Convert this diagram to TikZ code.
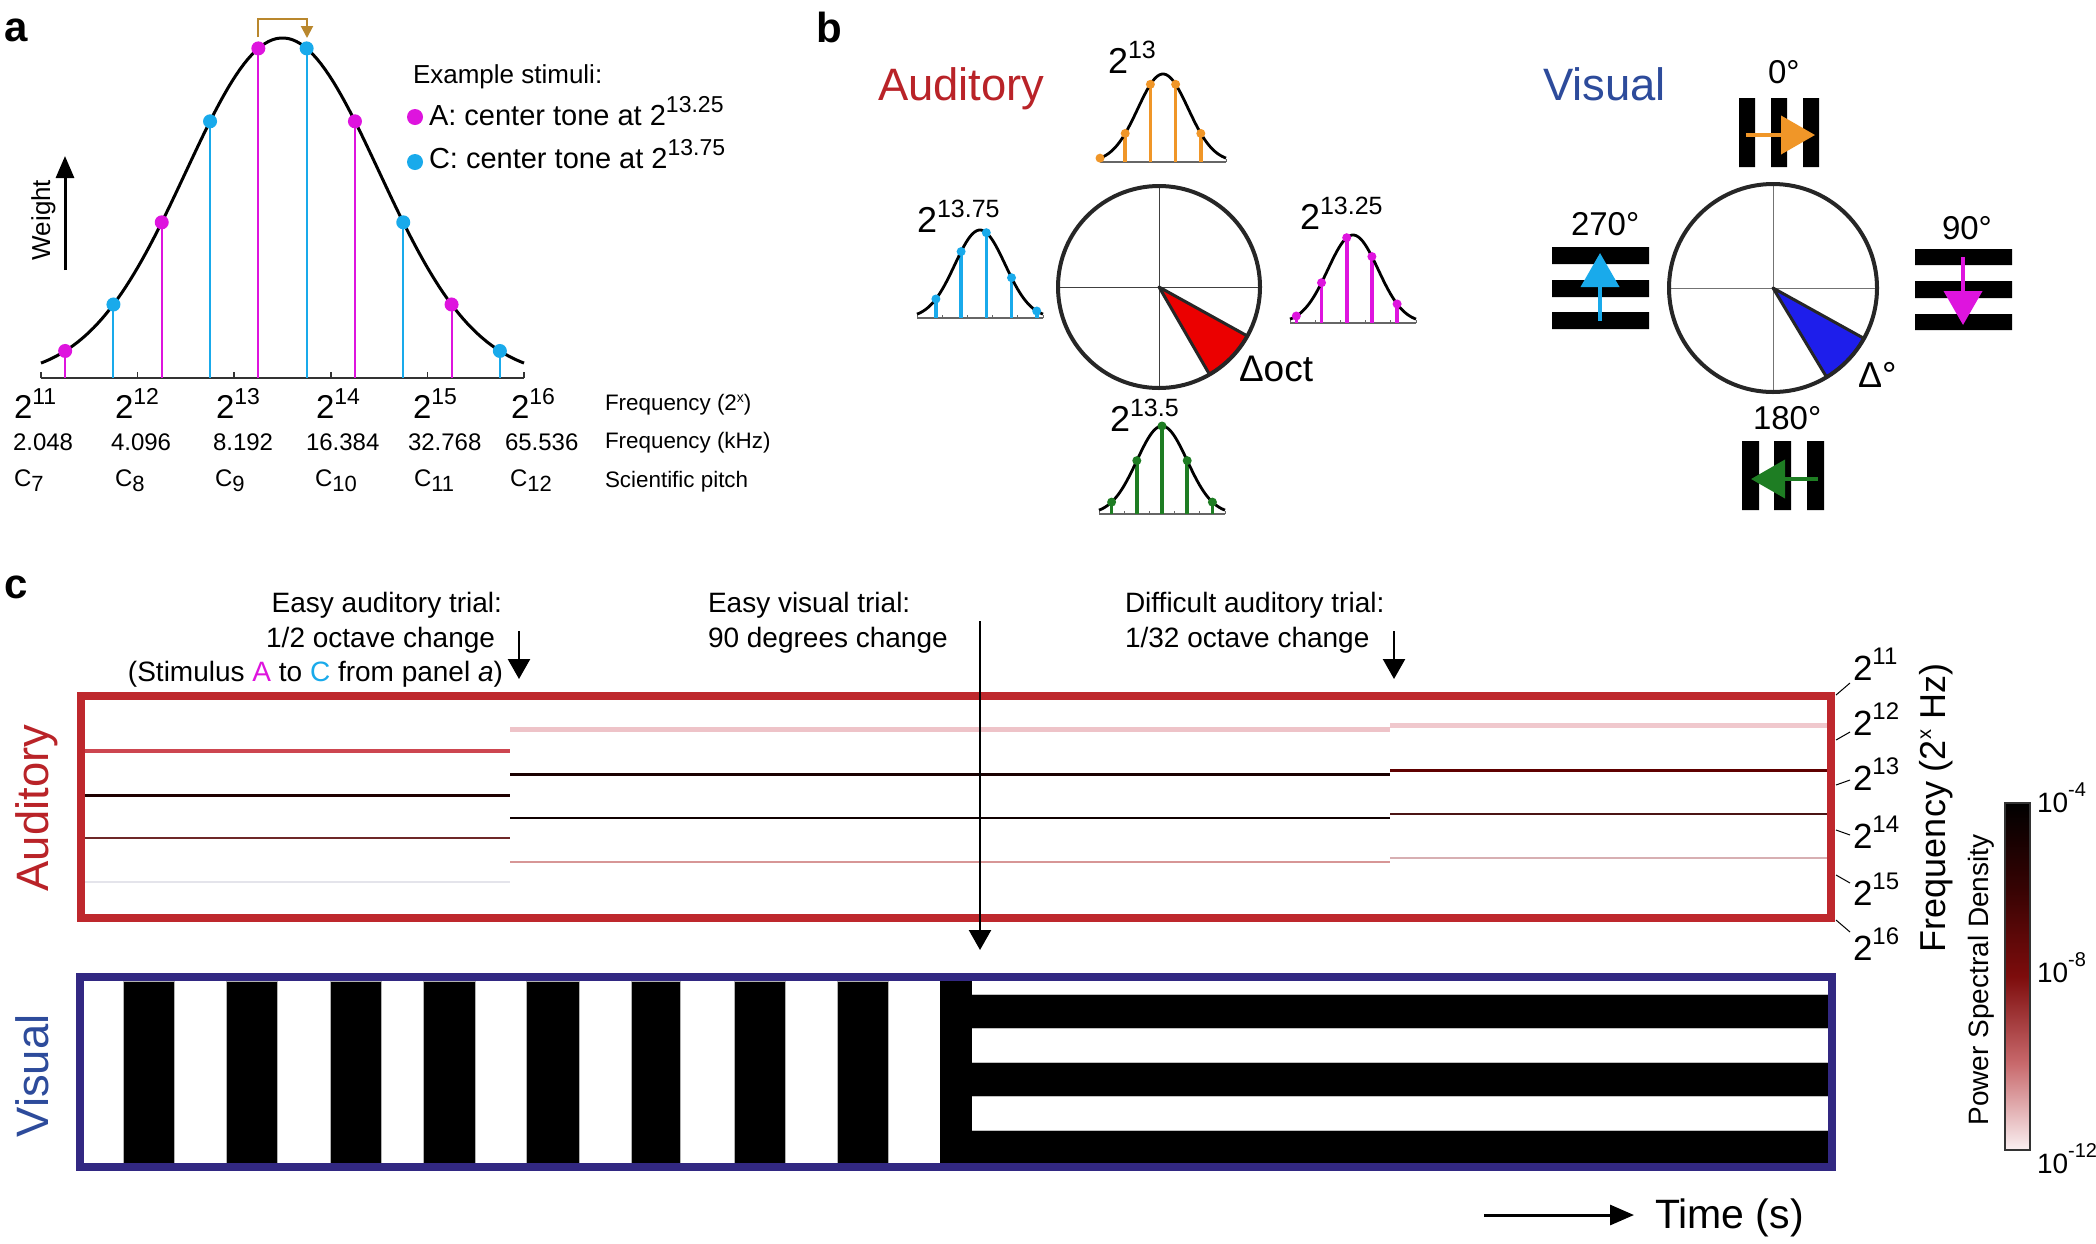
\documentclass[tikz,border=0pt]{standalone}
\usepackage{fontspec}
\setmainfont{Liberation Sans}
\usetikzlibrary{arrows.meta}
\definecolor{magA}{RGB}{222,20,222}
\definecolor{cyanC}{RGB}{25,170,235}
\definecolor{orgT}{RGB}{240,150,40}
\definecolor{grnT}{RGB}{30,125,35}
\definecolor{brk}{RGB}{185,135,45}
\definecolor{audR}{RGB}{185,35,40}
\definecolor{visB}{RGB}{45,75,155}
\definecolor{boxR}{RGB}{190,40,45}
\definecolor{boxB}{RGB}{50,40,130}
\definecolor{wedR}{RGB}{235,0,0}
\definecolor{wedB}{RGB}{30,30,235}
\definecolor{sOneA}{RGB}{205,70,80}
\definecolor{sOneB}{RGB}{30,0,0}
\definecolor{sOneC}{RGB}{110,40,40}
\definecolor{sOneD}{RGB}{228,228,235}
\definecolor{sTwoA}{RGB}{238,195,200}
\definecolor{sTwoB}{RGB}{25,0,0}
\definecolor{sTwoC}{RGB}{15,0,0}
\definecolor{sTwoD}{RGB}{215,150,150}
\definecolor{sThrA}{RGB}{240,200,205}
\definecolor{sThrB}{RGB}{95,0,0}
\definecolor{sThrC}{RGB}{75,20,20}
\definecolor{sThrD}{RGB}{215,175,178}
\definecolor{cbZero}{RGB}{250,240,242}
\definecolor{cbOne}{RGB}{200,105,108}
\definecolor{cbTwo}{RGB}{125,12,12}
\definecolor{cbThr}{RGB}{55,3,3}
\pgfdeclareverticalshading{psd}{100bp}{color(0bp)=(cbZero); color(25bp)=(cbZero); color(37.5bp)=(cbOne); color(50bp)=(cbTwo); color(62.5bp)=(cbThr); color(75bp)=(black); color(100bp)=(black)}
\newcommand{\FSz}[1]{\fontsize{#1}{#1}\selectfont}
\newcommand{\SupT}[3]{\raisebox{#1}{\FSz{#2}#3}}
\newcommand{\MiniG}[4]{%
  \draw[black!60, line width=0.6pt] ({#1-63},#2) -- ({#1+63},#2);
  \foreach \t in {-2.5,-1.5,-0.5,0.5,1.5,2.5} \draw[black!60, line width=0.5pt] ({#1+25.2*\t},#2) -- ({#1+25.2*\t},{#2-3});
  \foreach \o in {#4} {\draw[#3, line width=1.8pt] ({#1+25.2*\o},#2) -- ({#1+25.2*\o},{#2-88*exp(-((\o)*(\o))/2)});}
  \draw[line width=1.4pt] plot[domain=-2.5:2.5, samples=60] ({#1+25.2*\x},{#2-88*exp(-((\x)*(\x))/2)});
  \foreach \o in {#4} {\fill[#3] ({#1+25.2*\o},{#2-88*exp(-((\o)*(\o))/2)}) circle[radius=4.5];}
}
\begin{document}
\begin{tikzpicture}[x=0.5pt, y=-0.5pt,
  tx/.style={inner sep=0pt, outer sep=0pt, anchor=base west},
  txe/.style={inner sep=0pt, outer sep=0pt, anchor=base east},
  rtx/.style={inner sep=0pt, outer sep=0pt, anchor=base, rotate=90},
  bigarr/.style={line width=1.2pt, -{Triangle[length=10pt,width=11pt]}},
  gratarr/.style={line width=2pt, -{Triangle[length=17pt,width=19pt]}}]
\useasboundingbox (0,0) rectangle (2096,1243);
\fill[white] (0,0) rectangle (2096,1243);

% ---------------- Panel a ----------------
\node[tx] (la) at (4,41) {\FSz{21}\bfseries a};
\draw[line width=0.8pt, black!80] (41,378) -- (524,378);
\foreach \k in {0,...,5} \draw[line width=0.8pt, black!80] ({41+96.6*\k},378) -- ({41+96.6*\k},372);
\foreach \o in {0.25,1.25,2.25,3.25,4.25} {\draw[magA, line width=1pt] ({41+96.6*\o},378) -- ({41+96.6*\o},{378-340*exp(-((\o-2.5)*(\o-2.5))/2)});}
\foreach \o in {0.75,1.75,2.75,3.75,4.75} {\draw[cyanC, line width=1pt] ({41+96.6*\o},378) -- ({41+96.6*\o},{378-340*exp(-((\o-2.5)*(\o-2.5))/2)});}
\draw[line width=1.5pt] plot[domain=41:524, samples=120] (\x,{378-340*exp(-((\x-282.5)/96.6)*((\x-282.5)/96.6)/2)});
\foreach \o in {0.25,1.25,2.25,3.25,4.25} {\fill[magA] ({41+96.6*\o},{378-340*exp(-((\o-2.5)*(\o-2.5))/2)}) circle[radius=7];}
\foreach \o in {0.75,1.75,2.75,3.75,4.75} {\fill[cyanC] ({41+96.6*\o},{378-340*exp(-((\o-2.5)*(\o-2.5))/2)}) circle[radius=7];}
\coordinate (brA) at (258,37);
\coordinate (brB) at (307,38);
\draw[brk, line width=1pt, -{Triangle[length=6pt,width=6pt]}] (brA) -- (258,19) -- (307,19) -- (brB);
\node[rtx] (wgt) at (50,220) {\FSz{13}Weight};
\coordinate (wA) at (65,270);
\coordinate (wB) at (65,156);
\draw[line width=1.5pt, -{Triangle[length=11pt,width=9pt]}] (wA) -- (wB);
\node[tx] (exst) at (413,83) {\FSz{13}Example stimuli:};
\fill[magA] (415,117) circle[radius=8];
\fill[cyanC] (415,162) circle[radius=8];
\node[tx] (lgA) at (429,125) {\FSz{14.5}A: center tone at 2\SupT{6.5pt}{11.5}{13.25}};
\node[tx] (lgC) at (429,168) {\FSz{14.5}C: center tone at 2\SupT{6.5pt}{11.5}{13.75}};
\node[tx] (p11) at (14,418) {\FSz{16.5}2\SupT{7pt}{11.5}{11}};
\node[tx] (p12) at (115,418) {\FSz{16.5}2\SupT{7pt}{11.5}{12}};
\node[tx] (p13) at (216,418) {\FSz{16.5}2\SupT{7pt}{11.5}{13}};
\node[tx] (p14) at (316,418) {\FSz{16.5}2\SupT{7pt}{11.5}{14}};
\node[tx] (p15) at (413,418) {\FSz{16.5}2\SupT{7pt}{11.5}{15}};
\node[tx] (p16) at (511,418) {\FSz{16.5}2\SupT{7pt}{11.5}{16}};
\node[tx] (k1) at (13,450) {\FSz{12}2.048};
\node[tx] (k2) at (111,450) {\FSz{12}4.096};
\node[tx] (k3) at (213,450) {\FSz{12}8.192};
\node[tx] (k4) at (306,450) {\FSz{12}16.384};
\node[tx] (k5) at (408,450) {\FSz{12}32.768};
\node[tx] (k6) at (505,450) {\FSz{12}65.536};
\node[tx] (c7) at (14,486) {\FSz{12}C\raisebox{-2.5pt}{\FSz{11}7}};
\node[tx] (c8) at (115,486) {\FSz{12}C\raisebox{-2.5pt}{\FSz{11}8}};
\node[tx] (c9) at (215,486) {\FSz{12}C\raisebox{-2.5pt}{\FSz{11}9}};
\node[tx] (c10) at (315,486) {\FSz{12}C\raisebox{-2.5pt}{\FSz{11}10}};
\node[tx] (c11) at (414,486) {\FSz{12}C\raisebox{-2.5pt}{\FSz{11}11}};
\node[tx] (c12) at (510,486) {\FSz{12}C\raisebox{-2.5pt}{\FSz{11}12}};
\node[tx] (fx) at (605,410) {\FSz{11.2}Frequency (2\SupT{4pt}{7}{x})};
\node[tx] (fk) at (605,448) {\FSz{11.2}Frequency (kHz)};
\node[tx] (sp) at (605,487) {\FSz{11.2}Scientific pitch};

% ---------------- Panel b ----------------
\node[tx] (lb) at (816,42) {\FSz{21}\bfseries b};
\node[tx, text=audR] (audT) at (878,100) {\FSz{22.7}Auditory};
\node[tx, text=visB] (visT) at (1543,100) {\FSz{22.7}Visual};
% auditory circle
\draw[black!75, line width=0.5pt] (1058,287) -- (1260,287);
\draw[black!75, line width=0.5pt] (1159,186) -- (1159,388);
\filldraw[fill=wedR, draw=black!85, line width=1.5pt, line join=round] (1159,287) -- plot[domain=29:60, samples=20] ({1159+101*cos(\x)},{287+101*sin(\x)}) -- cycle;
\draw[black!85, line width=2pt] (1159,287) circle[radius=101];
\node[tx] (doct) at (1239,381) {\FSz{18.5}Δoct};
\MiniG{1163}{162}{orgT}{-2.5,-1.5,-0.5,0.5,1.5}
\MiniG{980}{318}{cyanC}{-1.75,-0.75,0.25,1.25,2.25}
\MiniG{1353}{323}{magA}{-2.25,-1.25,-0.25,0.75,1.75}
\MiniG{1162}{514}{grnT}{-2,-1,0,1,2}
\node[tx] (m13) at (1108,73) {\FSz{18}2\SupT{7.5pt}{12.5}{13}};
\node[tx] (m1375) at (917,232) {\FSz{18}2\SupT{7.5pt}{12.5}{13.75}};
\node[tx] (m1325) at (1300,229) {\FSz{18}2\SupT{7.5pt}{12.5}{13.25}};
\node[tx] (m135) at (1110,431) {\FSz{18}2\SupT{7.5pt}{12.5}{13.5}};
% visual circle
\draw[black!55, line width=0.5pt] (1669,288) -- (1877,288);
\draw[black!55, line width=0.5pt] (1773,184) -- (1773,392);
\filldraw[fill=wedB, draw=black!85, line width=1.5pt, line join=round] (1773,288) -- plot[domain=29:59, samples=20] ({1773+104*cos(\x)},{288+104*sin(\x)}) -- cycle;
\draw[black!85, line width=2pt] (1773,288) circle[radius=104];
\node[tx] (ddeg) at (1858,387) {\FSz{18}Δ°};
% gratings
\fill[black] (1739,98) rectangle (1755,167) (1771,98) rectangle (1787,167) (1803,98) rectangle (1819,167);
\fill[black] (1742,441) rectangle (1759,510) (1774,441) rectangle (1791,510) (1807,441) rectangle (1824,510);
\fill[black] (1552,247) rectangle (1649,264) (1552,280) rectangle (1649,297) (1552,312) rectangle (1649,329);
\fill[black] (1915,249) rectangle (2012,265) (1915,281) rectangle (2012,298) (1915,314) rectangle (2012,330);
\draw[orgT, gratarr] (1746,135) -- (1815,135);
\draw[grnT, gratarr] (1818,479) -- (1751,479);
\draw[cyanC, gratarr] (1600,321) -- (1600,253);
\draw[magA, gratarr] (1963,257) -- (1963,325);
\node[tx] (g0) at (1768,83) {\FSz{16.5}0°};
\node[tx] (g180) at (1753,429) {\FSz{16.5}180°};
\node[tx] (g270) at (1571,235) {\FSz{16.5}270°};
\node[tx] (g90) at (1942,239) {\FSz{16.5}90°};

% ---------------- Panel c ----------------
\node[tx] (lc) at (4,598) {\FSz{21}\bfseries c};
% spectrogram lines
\draw[sOneA, line width=2.2pt] (85,751) -- (510,751);
\draw[sOneB, line width=1.5pt] (85,795) -- (510,795);
\draw[sOneC, line width=1pt] (85,838) -- (510,838);
\draw[sOneD, line width=1pt] (85,882) -- (510,882);
\draw[sTwoA, line width=2.5pt] (510,729) -- (1390,729);
\draw[sTwoB, line width=1.5pt] (510,774) -- (1390,774);
\draw[sTwoC, line width=1pt] (510,818) -- (1390,818);
\draw[sTwoD, line width=0.8pt] (510,862) -- (1390,862);
\draw[sThrA, line width=2.5pt] (1390,725) -- (1827,725);
\draw[sThrB, line width=1.5pt] (1390,770) -- (1827,770);
\draw[sThrC, line width=1pt] (1390,814) -- (1827,814);
\draw[sThrD, line width=1pt] (1390,858) -- (1827,858);
\draw[boxR, line width=4pt] (81,696) rectangle (1831,918);
% visual stimulus
\foreach \a/\b in {123/174,226/277,330/381,423/475,526/579,631/680,734/785,837/888} {\filldraw[fill=black, draw=black!30, line width=0.4pt] (\a,981) rectangle (\b,1163);}
\fill[black] (940,981) rectangle (972,1163);
\fill[black] (972,994) rectangle (1828,1028) (972,1062) rectangle (1828,1096) (972,1130) rectangle (1828,1163);
\draw[black!25, line width=0.4pt] (972,994) -- (1828,994) (972,1028) -- (1828,1028) (972,1062) -- (1828,1062) (972,1096) -- (1828,1096) (972,1130) -- (1828,1130);
\draw[boxB, line width=4pt] (80,977) rectangle (1832,1167);
\node[rtx, text=audR] (audV) at (48,808) {\FSz{22.7}Auditory};
\node[rtx, text=visB] (visV) at (48,1076) {\FSz{22.7}Visual};
% annotations
\node[txe] (e1) at (502,612) {\FSz{14}Easy auditory trial:};
\node[txe] (e2) at (495,647) {\FSz{14}1/2 octave change};
\node[txe] (e3) at (503,681) {\FSz{14}(Stimulus {\color{magA}A} to {\color{cyanC}C} from panel \textit{a})};
\coordinate (eA) at (519,631);
\coordinate (eB) at (519,679);
\draw[bigarr] (eA) -- (eB);
\node[tx] (v1) at (708,612) {\FSz{14}Easy visual trial:};
\node[tx] (v2) at (708,647) {\FSz{14}90 degrees change};
\coordinate (vA) at (980,621);
\coordinate (vB) at (980,950);
\draw[bigarr] (vA) -- (vB);
\node[tx] (d1) at (1125,612) {\FSz{14}Difficult auditory trial:};
\node[tx] (d2) at (1125,647) {\FSz{14}1/32 octave change};
\coordinate (dA) at (1394,631);
\coordinate (dB) at (1394,679);
\draw[bigarr] (dA) -- (dB);
% right frequency axis
\foreach \ya/\yb in {695/683,740/732,785/780,830/835,875/883,920/932} {\draw[black, line width=0.5pt] (1836,\ya) -- (1850,\yb);}
\node[tx] (r11) at (1853,680) {\FSz{17.5}2\SupT{8pt}{12}{11}};
\node[tx] (r12) at (1853,735) {\FSz{17.5}2\SupT{8pt}{12}{12}};
\node[tx] (r13) at (1853,790) {\FSz{17.5}2\SupT{8pt}{12}{13}};
\node[tx] (r14) at (1853,848) {\FSz{17.5}2\SupT{8pt}{12}{14}};
\node[tx] (r15) at (1853,905) {\FSz{17.5}2\SupT{8pt}{12}{15}};
\node[tx] (r16) at (1853,960) {\FSz{17.5}2\SupT{8pt}{12}{16}};
\node[rtx] (fhz) at (1945,808) {\FSz{18}Frequency (2\SupT{7pt}{10}{x} Hz)};
% colorbar
\shade[shading=psd] (2005,803) rectangle (2030,1150);
\draw[black!80, line width=0.7pt] (2005,803) rectangle (2030,1150);
\node[rtx] (psd) at (1988,980) {\FSz{14}Power Spectral Density};
\node[tx] (cb4) at (2037,812) {\FSz{14}10\SupT{8pt}{10}{-4}};
\node[tx] (cb8) at (2037,982) {\FSz{14}10\SupT{8pt}{10}{-8}};
\node[tx] (cb12) at (2037,1173) {\FSz{14}10\SupT{8pt}{10}{-12}};
% time
\coordinate (tA) at (1484,1215);
\coordinate (tB) at (1634,1215);
\draw[line width=1.5pt, -{Triangle[length=12pt,width=10pt]}] (tA) -- (tB);
\node[tx] (tim) at (1655,1228) {\FSz{20.5}Time (s)};
\end{tikzpicture}
\end{document}
